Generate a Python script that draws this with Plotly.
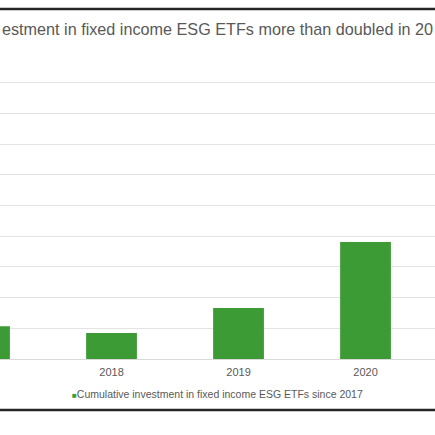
import plotly.graph_objects as go

# cumulative investment in fixed income ESG ETFs (axis values not shown, read in gridline units)
years = [2017, 2018, 2019, 2020]
investment = [1.07, 0.85, 1.66, 3.81]
tick_labels = [str(y) for y in years]

# the title is cropped in the reference, only this part is visible
title = 'estment in fixed income ESG ETFs more than doubled in 20'
series_name = 'Cumulative investment in fixed income ESG ETFs since 2017'

GREEN = '#3d9b35'
GREY_TEXT = '#595959'
FONT = 'Liberation Sans, Arial, sans-serif'

W = H = 435
TOP, BOTTOM = 52, 359          # plot area in pixels


def py(y):
    # pixel row -> paper coordinate (paper is the plot area)
    return (BOTTOM - y) / (BOTTOM - TOP)


fig = go.Figure()
fig.add_trace(go.Bar(
    x=years, y=investment, name=series_name,
    width=0.4, marker=dict(color=GREEN, line=dict(width=0)),
    showlegend=False))

fig.update_layout(
    width=W, height=H,
    margin=dict(l=0, r=0, t=TOP, b=H - BOTTOM),
    paper_bgcolor='white', plot_bgcolor='white',
    font=dict(family=FONT, color=GREY_TEXT, size=11),
    xaxis=dict(
        range=[2017.122, 2020.547],
        tickvals=years, ticktext=tick_labels,
        showgrid=False, zeroline=False,
        showline=True, linecolor='#d9d9d9', linewidth=1,
        ticks='', ticklabelstandoff=3,
        tickfont=dict(size=11, color=GREY_TEXT)),
    yaxis=dict(
        range=[0, 10], dtick=1,
        showticklabels=False, ticks='',
        showgrid=True, gridcolor='#e3e3e3', gridwidth=1,
        zeroline=False),
    annotations=[
        dict(text=title, xref='paper', yref='paper',
             x=0, xanchor='left', y=py(29), yanchor='middle',
             showarrow=False, font=dict(size=16.2, color=GREY_TEXT)),
        dict(text='<span style="color:%s;font-size:8px">■</span>%s'
             % (GREEN, series_name),
             xref='paper', yref='paper',
             x=217 / W, xanchor='center', y=py(394), yanchor='middle',
             showarrow=False, font=dict(size=10.5, color=GREY_TEXT)),
    ],
    shapes=[
        dict(type='line', xref='paper', yref='paper', x0=0, x1=1,
             y0=py(9), y1=py(9),
             line=dict(color='#262626', width=2.5)),
        dict(type='line', xref='paper', yref='paper', x0=0, x1=1,
             y0=py(410), y1=py(410),
             line=dict(color='#262626', width=2.5)),
    ],
)

# drop the default page margin so the figure sits at the window corner
fig.write_html('out.html', config={'displayModeBar': False},
               post_script="document.body.style.margin='0';")
